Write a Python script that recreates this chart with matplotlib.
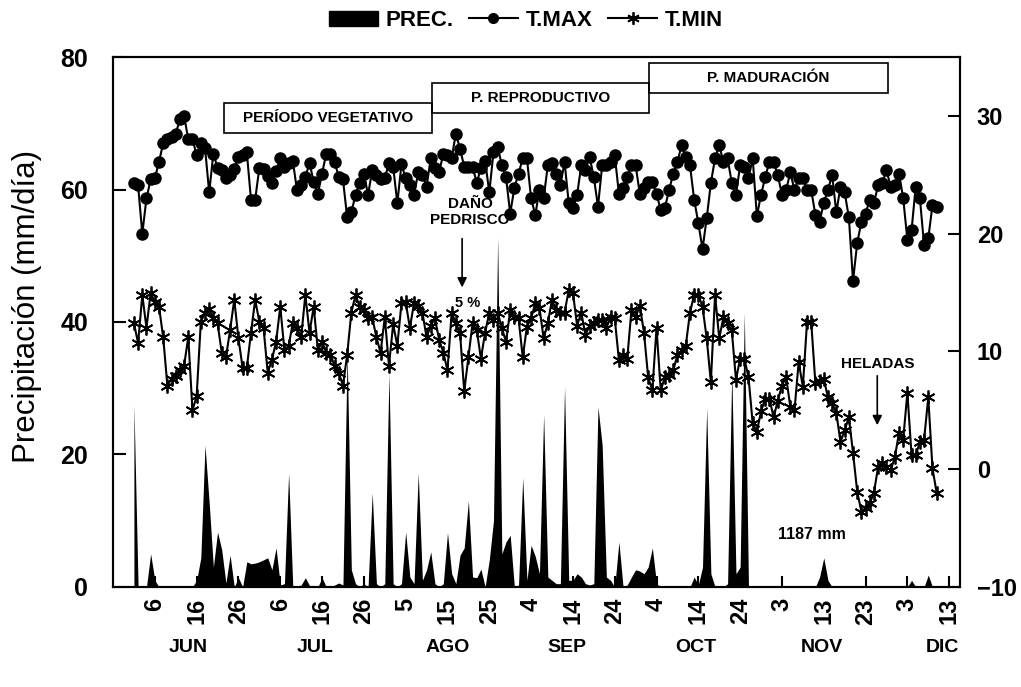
import numpy as np
import matplotlib.pyplot as plt
from matplotlib.patches import Rectangle, Patch
from matplotlib.lines import Line2D
import matplotlib.transforms as mtransforms

plt.rcParams['font.family'] = ['Liberation Sans', 'DejaVu Sans']

# DAILY SERIES, DAY 0 = 1 JUNE
PREC = [
    27.5, 0, 0, 0, 5.0, 1.0, 0, 0, 0, 0,
    0, 0, 0, 0, 0, 1.0, 4.4, 21.4, 12.7, 3.0,
    8.3, 5.6, 0.6, 4.8, 0, 1.4, 0, 3.8, 3.5, 3.6,
    3.8, 4.1, 4.4, 2.6, 5.9, 0.3, 0.5, 17.2, 0, 0,
    0.3, 1.4, 0.2, 0, 0, 1.4, 0, 0, 0.3, 0.6,
    0.3, 35.5, 2.6, 0.5, 0, 0.5, 0, 14.2, 0.5, 0,
    0.5, 32.3, 0.5, 0, 0.5, 8.3, 1.5, 0.5, 17.2, 1.0,
    2.6, 5.3, 0.5, 0, 0.5, 8.2, 2.0, 0.5, 4.8, 5.9,
    13.0, 1.5, 1.4, 2.7, 0, 4.1, 10.0, 52.8, 5.0, 6.8,
    7.8, 0, 0.3, 16.5, 1.0, 6.3, 4.6, 2.0, 26.0, 1.5,
    1.0, 0.5, 0.5, 30.2, 1.0, 1.0, 2.0, 1.5, 0.5, 0.3,
    0.5, 27.2, 21.4, 1.5, 1.0, 0, 6.8, 0, 0.3, 1.5,
    2.6, 2.4, 2.0, 3.0, 5.9, 0.5, 0, 0, 0, 0,
    0, 0, 0, 0, 1.5, 0.3, 3.0, 27.0, 2.0, 0,
    0, 0, 0.5, 32.5, 2.0, 3.0, 41.4, 0, 0, 0,
    0, 0, 0, 0, 0, 0, 0, 0, 0, 0,
    0, 0, 0, 0, 1.5, 4.4, 1.0, 0, 0, 0,
    0, 0, 0, 0, 0, 0, 0, 0, 0, 0,
    0, 0, 0, 0, 0, 0, 1.0, 0, 0, 0,
    1.8, 0, 0, 0, 0, 0,
]

T_MAX = [
    24.3, 24.1, 20.0, 23.0, 24.6, 24.7, 26.1, 27.7, 28.0, 28.2,
    28.5, 29.7, 30.0, 28.0, 28.0, 26.7, 27.7, 27.3, 23.5, 26.8,
    25.6, 25.4, 24.7, 25.0, 25.5, 26.5, 26.7, 26.9, 22.9, 22.9,
    25.6, 25.5, 24.9, 24.3, 25.3, 26.4, 25.7, 26.0, 26.2, 23.7,
    24.1, 24.8, 26.0, 24.4, 23.4, 25.1, 26.8, 26.8, 26.1, 24.8,
    24.6, 21.4, 21.8, 23.3, 24.3, 25.1, 23.3, 25.4, 25.0, 24.6,
    24.7, 26.0, 25.7, 22.6, 25.9, 24.7, 24.1, 23.3, 25.2, 25.0,
    24.0, 26.4, 25.6, 25.2, 26.8, 26.7, 26.4, 28.5, 27.2, 25.7,
    25.7, 25.7, 24.3, 25.6, 26.2, 23.5, 26.9, 27.4, 25.8, 24.8,
    21.7, 23.9, 25.1, 26.4, 26.4, 23.0, 21.6, 23.7, 23.0, 25.8,
    26.0, 25.1, 24.1, 26.1, 22.6, 22.2, 23.3, 25.8, 25.4, 26.5,
    24.8, 22.3, 25.8, 25.8, 26.1, 26.7, 23.4, 23.9, 24.8, 25.8,
    25.8, 23.4, 23.9, 24.4, 24.4, 23.4, 22.0, 22.2, 23.7, 25.1,
    26.1, 27.5, 26.5, 25.8, 22.9, 20.9, 18.7, 21.3, 24.3, 26.4,
    27.5, 26.1, 26.4, 24.3, 23.3, 25.8, 25.7, 24.7, 26.4, 21.5,
    23.3, 24.8, 26.1, 26.1, 25.0, 23.3, 23.7, 25.2, 23.7, 24.7,
    24.7, 23.7, 23.7, 21.6, 21.0, 22.6, 23.7, 25.0, 21.8, 24.0,
    23.5, 21.4, 16.0, 19.2, 21.0, 21.7, 22.9, 22.6, 24.1, 24.3,
    25.4, 24.0, 24.1, 25.1, 23.0, 19.5, 20.3, 24.0, 23.0, 19.0,
    19.6, 22.4, 22.3,
]

T_MIN = [
    12.4, 10.7, 14.8, 12.0, 15.0, 14.2, 13.8, 11.2, 7.1, 7.7,
    7.9, 8.4, 8.8, 11.2, 5.0, 6.2, 12.5, 13.3, 13.6, 12.8,
    12.4, 9.9, 9.5, 11.8, 14.4, 11.1, 8.6, 8.6, 11.6, 14.4,
    12.5, 12.0, 8.2, 9.3, 10.8, 13.8, 10.1, 10.5, 12.4, 12.0,
    11.2, 14.8, 11.6, 13.8, 10.1, 10.8, 9.9, 9.7, 8.8, 8.2,
    7.1, 9.7, 13.3, 14.8, 13.8, 13.5, 12.8, 12.9, 11.2, 9.9,
    12.9, 8.8, 12.3, 10.5, 14.1, 14.2, 12.0, 14.1, 13.9, 13.3,
    11.2, 12.2, 12.8, 11.0, 9.9, 8.4, 13.3, 12.4, 11.6, 6.6,
    9.5, 12.4, 11.8, 9.4, 11.6, 13.3, 12.7, 13.3, 12.0, 10.8,
    13.5, 12.9, 12.8, 9.5, 12.1, 12.8, 14.1, 13.7, 11.1, 12.4,
    14.4, 13.5, 13.3, 13.3, 15.2, 15.0, 12.2, 13.3, 11.4, 12.2,
    12.4, 12.7, 12.7, 12.0, 12.9, 12.8, 9.3, 9.7, 9.4, 13.5,
    12.9, 13.9, 11.6, 7.8, 6.7, 12.0, 6.7, 7.8, 8.0, 8.4,
    9.7, 10.1, 10.5, 13.3, 14.8, 14.8, 13.8, 11.1, 7.4, 14.8,
    11.1, 12.9, 12.4, 11.8, 7.6, 9.4, 9.4, 7.8, 3.9, 3.2,
    4.9, 6.0, 6.0, 4.4, 5.8, 7.1, 7.8, 5.3, 5.0, 9.1,
    7.0, 12.5, 12.5, 7.3, 7.5, 7.7, 6.1, 5.6, 4.8, 2.3,
    3.3, 4.4, 1.4, -1.9, -3.6, -3.3, -2.9, -2.0, 0.2, 0.5,
    0.2, -0.1, 1.0, 3.1, 2.5, 6.5, 1.2, 1.2, 2.3, 2.5,
    6.1, 0.1, -2.0,
]

TICK_LABELS = ['6', '16', '26', '6', '16', '26', '5', '15', '25', '4',
               '14', '24', '4', '14', '24', '3', '13', '23', '3', '13']
MONTHS = ['JUN', 'JUL', 'AGO', 'SEP', 'OCT', 'NOV', 'DIC']
MONTH_POS = [13, 43.3, 75, 103.6, 134.4, 164.6, 193.5]

# PHASE BOXES: label, x0, x1, y0 (mm), height
PHASES = [('PERÍODO VEGETATIVO', 21.5, 71.3, 68.5, 4.6),
          ('P. REPRODUCTIVO', 71.3, 123.2, 71.5, 4.6),
          ('P. MADURACIÓN', 123.2, 180.4, 74.5, 4.6)]

days_p = np.arange(len(PREC))
days_t = np.arange(len(T_MAX))

fig = plt.figure(figsize=(10.21, 6.87), dpi=100)
ax = fig.add_axes([0.1107, 0.1456, 0.8296, 0.7714])

# PRECIPITATION
ax.fill_between(days_p, PREC, 0, color='black', lw=0)
ax.set_xlim(-5, 197.6)
ax.set_ylim(0, 80)
ax.set_yticks([0, 20, 40, 60, 80])
ax.set_ylabel('Precipitación (mm/día)', fontsize=22.5)
ax.yaxis.set_label_coords(-0.084, 0.53)

ax.set_xticks(np.arange(5, 196, 10))
ax.set_xticklabels(TICK_LABELS, rotation=90, fontweight='bold', fontsize=17)

# TEMPERATURES
ax2 = ax.twinx()
ax2.plot(days_t, T_MAX, '-o', color='k', ms=8, lw=1.5)
ax2.plot(days_t, T_MIN, '-', color='k', marker=(6, 2, 0), ms=10, mew=1.3, lw=1.5)
ax2.set_ylim(-10, 35)
ax2.set_yticks([-10, 0, 10, 20, 30])

for a in (ax, ax2):
    a.tick_params(direction='in', length=9, width=1.5)
    for s in a.spines.values():
        s.set_linewidth(1.5)
ax.tick_params(axis='y', labelsize=18, pad=18)
ax2.tick_params(axis='y', labelsize=17, pad=12)
ax.tick_params(axis='x', length=8, labelsize=17, pad=8)
for lab in ax.get_yticklabels() + ax2.get_yticklabels():
    lab.set_fontweight('bold')

# MONTH NAMES
trans = mtransforms.blended_transform_factory(ax.transData, fig.transFigure)
for name, pos in zip(MONTHS, MONTH_POS):
    ax.text(pos, 0.057, name, transform=trans, ha='center', va='center',
            fontsize=14, fontweight='bold')

# PHASE BOXES
for label, x0, x1, y0, h in PHASES:
    ax.add_patch(Rectangle((x0, y0), x1 - x0, h, fill=False, ec='black', lw=1.2,
                           clip_on=False, zorder=5))
    ax.text((x0 + x1) / 2, y0 + h / 2, label, ha='center', va='center',
            fontsize=11, fontweight='bold', zorder=6)

# ANNOTATIONS
ax.text(80.4, 56.6, 'DAÑO\nPEDRISCO', ha='center', va='center', fontsize=11,
        fontweight='bold', linespacing=1.15)
ax.annotate('', xy=(78.5, 44.8), xytext=(78.5, 53.0),
            arrowprops=dict(arrowstyle='-|>', color='k', lw=1.2, mutation_scale=14))
ax.text(79.7, 42.9, '5 %', ha='center', va='center', fontsize=10.5, fontweight='bold')
ax.text(177.8, 33.7, 'HELADAS', ha='center', va='center', fontsize=11, fontweight='bold')
ax.annotate('', xy=(177.8, 24.0), xytext=(177.8, 32.3),
            arrowprops=dict(arrowstyle='-|>', color='k', lw=1.2, mutation_scale=14))
ax.text(162.2, 7.85, '1187 mm', ha='center', va='center', fontsize=11.5, fontweight='bold')

# LEGEND
handles = [Patch(facecolor='black', edgecolor='black'),
           Line2D([], [], color='k', marker='o', ms=7, lw=1.5),
           Line2D([], [], color='k', marker=(6, 2, 0), ms=9, mew=1.3, lw=1.5)]
fig.legend(handles, ['PREC.', 'T.MAX', 'T.MIN'], loc='center', bbox_to_anchor=(0.515, 0.97),
           ncol=3, frameon=False, prop={'weight': 'bold', 'size': 16},
           handlelength=2.2, handletextpad=0.35, columnspacing=0.7)

fig.savefig('out.png', dpi=100)
